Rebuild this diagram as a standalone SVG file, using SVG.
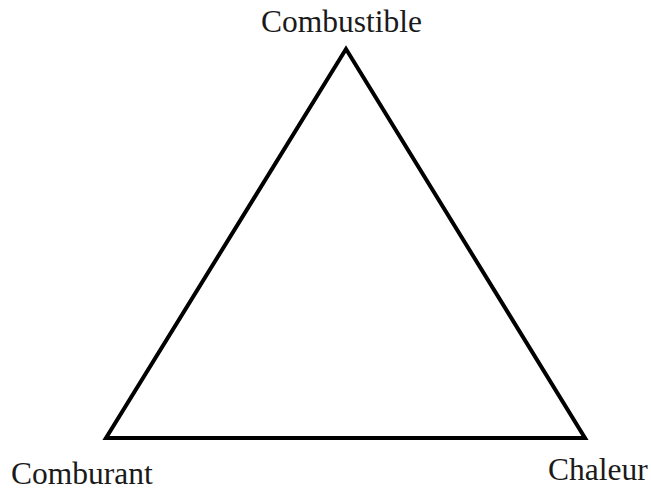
<svg xmlns="http://www.w3.org/2000/svg" width="651" height="492" viewBox="0 0 651 492">
<style>
.lbl{font-family:"Liberation Serif","Times New Roman",serif;font-size:31.5px;fill:#1a1a1a}
.edge{fill:none;stroke:#000;stroke-width:4;stroke-linejoin:miter}
</style>
<rect width="651" height="492" fill="#fff"/>
<g id="connectors">
<polygon class="edge" points="346,49 106,438 585,438"/>
</g>
<g id="combustible"><text class="lbl" x="261" y="32">Combustible</text></g>
<g id="comburant"><text class="lbl" x="11" y="484">Comburant</text></g>
<g id="chaleur"><text class="lbl" x="548" y="480">Chaleur</text></g>
</svg>
